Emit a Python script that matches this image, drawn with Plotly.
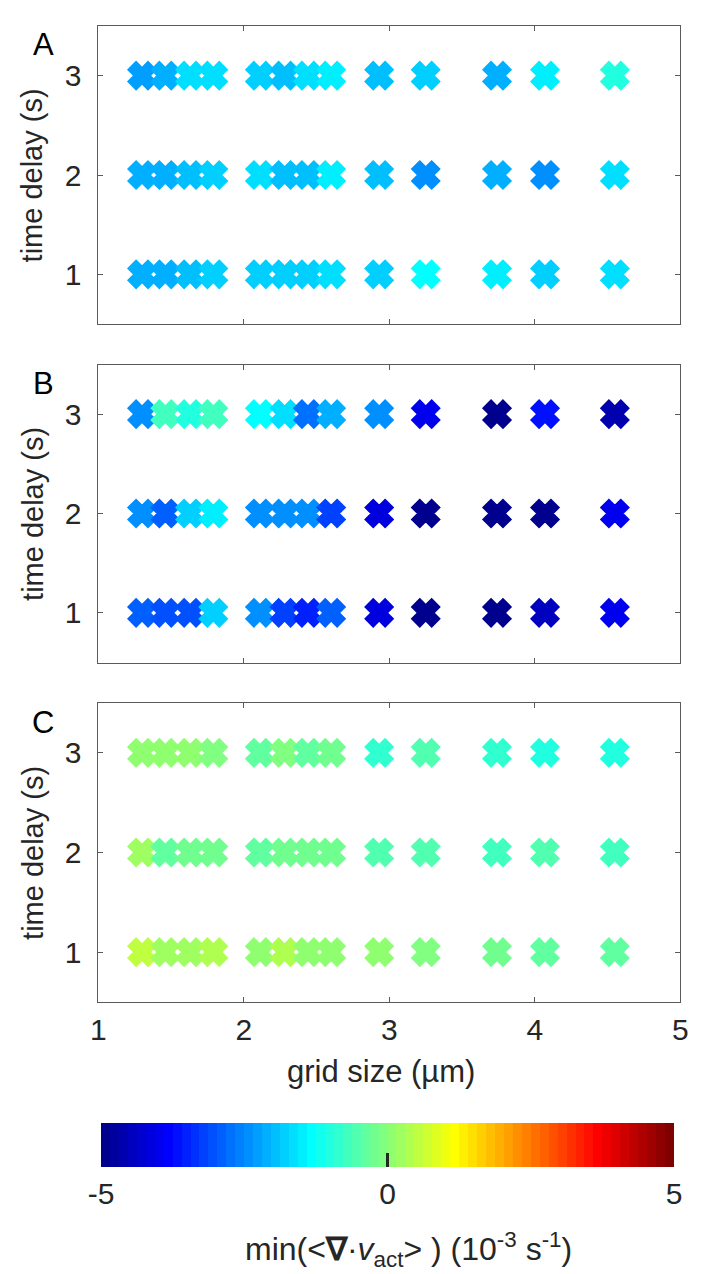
import numpy as np
import plotly.graph_objects as go

# grid sizes (µm) and time delays (s)
grid_size = [1.30, 1.46, 1.63, 1.79, 2.11, 2.28, 2.44, 2.60, 2.93, 3.25, 3.74, 4.07, 4.55]
time_delay = [1, 2, 3]

# min(<div v_act>) in 1e-3 1/s, one list per time delay (1, 2, 3 s)
panel_a_d1 = [-2.1, -2.1, -1.9, -1.85, -1.75, -1.75, -1.75, -1.7, -1.75, -1.4, -1.55, -1.85, -1.65]
panel_a_d2 = [-2.1, -2.05, -2.0, -1.8, -1.7, -1.95, -1.9, -1.55, -1.95, -2.4, -2.1, -2.45, -1.6]
panel_a_d3 = [-2.3, -2.1, -1.6, -1.65, -1.8, -1.9, -1.65, -1.45, -1.9, -1.8, -2.1, -1.55, -0.95]

panel_b_d1 = [-2.9, -3.05, -3.1, -1.75, -2.5, -3.25, -3.45, -2.95, -4.15, -4.95, -5.0, -4.5, -4.0]
panel_b_d2 = [-2.5, -2.95, -1.8, -1.45, -2.4, -2.45, -2.4, -3.25, -4.2, -5.0, -4.9, -4.95, -4.0]
panel_b_d3 = [-2.45, -0.75, -0.95, -0.7, -1.35, -1.65, -2.75, -2.1, -2.45, -4.0, -4.9, -3.7, -4.6]

panel_c_d1 = [0.47, 0.27, 0.22, 0.32, 0.05, 0.37, 0.05, 0.0, 0.0, -0.15, -0.27, -0.42, -0.37]
panel_c_d2 = [0.22, -0.32, -0.27, -0.27, -0.37, -0.22, -0.27, -0.17, -0.5, -0.5, -0.75, -0.55, -0.65]
panel_c_d3 = [0.07, 0.05, 0.05, -0.05, -0.32, -0.15, -0.32, -0.3, -0.9, -0.55, -0.85, -0.95, -1.05]

panel_labels = ["A", "B", "C"]
panels = [
    [panel_a_d1, panel_a_d2, panel_a_d3],
    [panel_b_d1, panel_b_d2, panel_b_d3],
    [panel_c_d1, panel_c_d2, panel_c_d3],
]

cb_ticks = [-5, 0, 5]


def jet(n=64):
    """MATLAB-style jet colormap with n entries."""
    m = int(np.ceil(n / 4))
    u = np.concatenate([np.arange(1, m + 1) / m, np.ones(m - 1), np.arange(m, 0, -1) / m])
    g = int(np.ceil(m / 2)) - (1 if n % 4 == 1 else 0) + np.arange(1, len(u) + 1)
    r = g + m
    b = g - m
    J = np.zeros((n, 3))
    for idx, val in zip(g, u):
        if 1 <= idx <= n:
            J[idx - 1, 1] = val
    for idx, val in zip(r, u):
        if 1 <= idx <= n:
            J[idx - 1, 0] = val
    for idx, val in zip(b, u):
        if 1 <= idx <= n:
            J[idx - 1, 2] = val
    return J


cmap = jet(64)
colorscale = []
for i, c in enumerate(cmap):
    col = "rgb({},{},{})".format(*[int(round(v * 255)) for v in c])
    colorscale.append([i / 64, col])
    colorscale.append([(i + 1) / 64, col])

W, H = 702, 1274
FONT = "Liberation Sans, Arial, sans-serif"
TXT = "#262626"

x_dom = [92.5 / W, 688 / W]
y_px = [(26, 324), (364.5, 662.5), (703, 1002)]


def label(x, y, text, size, angle=0, color=TXT):
    fig.add_annotation(
        x=x / W, y=1 - y / H, xref="paper", yref="paper", text=text,
        xanchor="center", yanchor="middle", textangle=angle, showarrow=False,
        font=dict(family=FONT, size=size, color=color),
    )


fig = go.Figure()

for k, (rows, lab) in enumerate(zip(panels, panel_labels)):
    xa = "x" if k == 0 else f"x{k + 1}"
    ya = "y" if k == 0 else f"y{k + 1}"
    xs, ys, cs = [], [], []
    for d, vals in zip(time_delay, rows):
        xs += grid_size
        ys += [d] * len(grid_size)
        cs += vals
    fig.add_trace(go.Scatter(
        x=xs, y=ys, mode="markers", xaxis=xa, yaxis=ya, showlegend=False,
        marker=dict(symbol="x", size=21, color=cs, coloraxis="coloraxis",
                    line=dict(width=4.5, color=cs, coloraxis="coloraxis")),
    ))

    top, bot = y_px[k]
    axis_common = dict(
        showline=True, linecolor="#5a5a5a", linewidth=1, mirror="ticks",
        ticks="inside", ticklen=5, tickcolor="#5a5a5a", showgrid=False,
        zeroline=False, tickfont=dict(family=FONT, size=30, color=TXT),
    )
    fig.layout[("xaxis" if k == 0 else f"xaxis{k + 1}")] = dict(
        domain=x_dom, range=[1, 5], anchor=ya, tickvals=[1, 2, 3, 4, 5],
        showticklabels=(k == 2), ticklabelstandoff=1, **axis_common,
    )
    fig.layout[("yaxis" if k == 0 else f"yaxis{k + 1}")] = dict(
        domain=[1 - bot / H, 1 - top / H], range=[0.5, 3.5], anchor=xa,
        tickvals=time_delay, ticklabelstandoff=10, **axis_common,
    )
    label(36, top + 19, lab, 31, color="black")
    label(25, (top + bot) / 2, "time delay (s)", 29, angle=-90)

label(382, 1071, "grid size (µm)", 31)
label(410, 1249,
      "min(&lt;<b>∇</b>·<i>v</i><sub>act</sub>&gt; ) (10<sup>-3</sup> s<sup>-1</sup>)", 32)

fig.update_layout(
    width=W, height=H, margin=dict(l=0, r=0, t=0, b=0),
    paper_bgcolor="white", plot_bgcolor="white",
    coloraxis=dict(
        colorscale=colorscale, cmin=-5, cmax=5,
        colorbar=dict(
            orientation="h", x=388.5 / W, xanchor="center",
            y=1 - 1123 / H, yanchor="top",
            len=573, lenmode="pixels", thickness=44, thicknessmode="pixels",
            xpad=0, ypad=0, outlinewidth=0,
            ticks="inside", ticklen=14, tickwidth=3, tickcolor=TXT,
            tickvals=cb_ticks, ticktext=[str(t) for t in cb_ticks],
            tickfont=dict(family=FONT, size=30, color=TXT),
        ),
    ),
)

fig.write_html("out.html")
